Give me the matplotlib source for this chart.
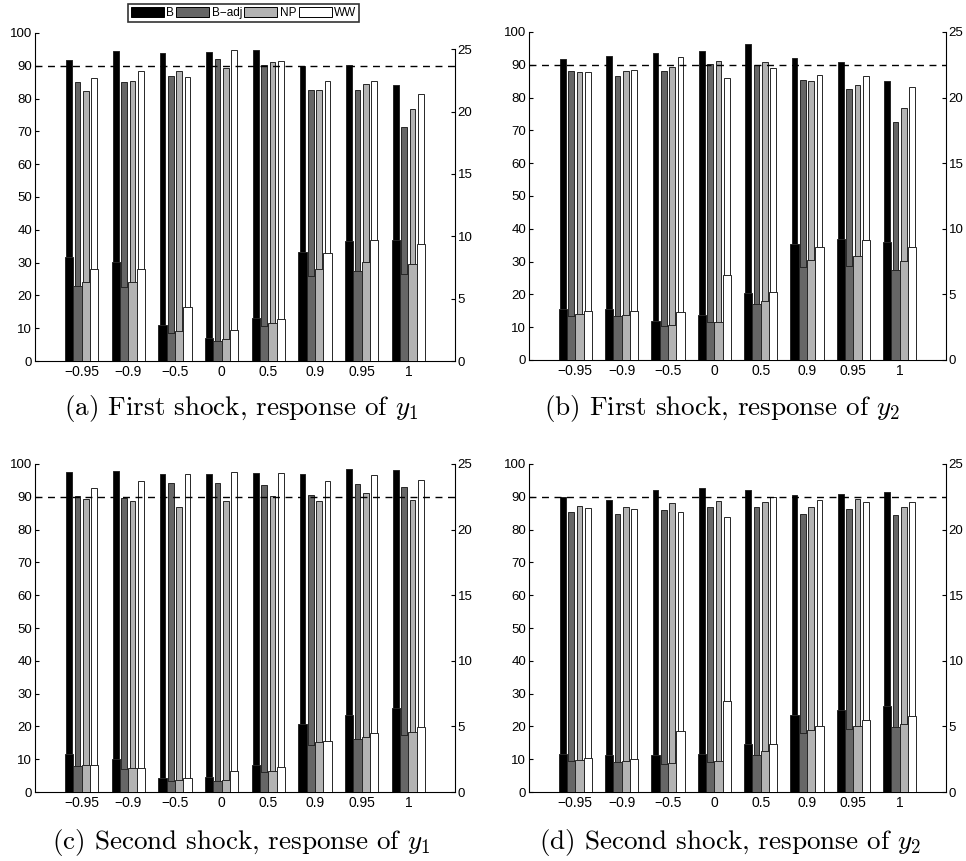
import numpy as np
import matplotlib.pyplot as plt
from matplotlib.patches import Patch

plt.rcParams['font.family'] = ['Liberation Sans', 'DejaVu Sans']
plt.rcParams['mathtext.fontset'] = 'cm'

rho = ['\u22120.95', '\u22120.9', '\u22120.5', '0', '0.5', '0.9', '0.95', '1']
methods = ['B', 'B\u2212adj', 'NP', 'WW']
colors = ['black', '0.4', '0.7', 'white']

# coverage (%), left axis, thin bars  -- rows: B, B-adj, NP, WW
cov_a = [[91.9, 94.4, 93.9, 94.1, 94.7, 90.0, 90.2, 84.2],
         [85.1, 85.0, 86.8, 92.0, 90.3, 82.6, 82.5, 71.3],
         [82.2, 85.3, 88.4, 89.4, 91.0, 82.5, 84.5, 76.8],
         [86.4, 88.5, 86.6, 94.7, 91.6, 85.3, 85.3, 81.4]]
# interval length, right axis, wide bars
len_a = [[8.35, 7.92, 2.92, 1.87, 3.45, 8.75, 9.64, 9.69],
         [6.02, 5.97, 2.28, 1.63, 2.84, 6.85, 7.23, 7.01],
         [6.37, 6.32, 2.41, 1.74, 3.08, 7.36, 7.90, 7.76],
         [7.41, 7.41, 4.36, 2.46, 3.40, 8.70, 9.74, 9.42]]

cov_b = [[91.7, 92.8, 93.7, 94.2, 96.2, 92.1, 90.9, 85.1],
         [88.1, 86.6, 88.2, 90.3, 89.8, 85.2, 82.7, 72.5],
         [87.9, 88.2, 89.3, 91.0, 90.8, 84.9, 83.8, 76.9],
         [87.7, 88.3, 92.4, 86.1, 89.1, 86.8, 86.5, 83.1]]
len_b = [[3.91, 3.86, 3.00, 3.40, 5.13, 8.83, 9.21, 8.96],
         [3.38, 3.38, 2.59, 2.87, 4.26, 7.08, 7.18, 6.83],
         [3.50, 3.45, 2.66, 2.92, 4.52, 7.64, 7.89, 7.54],
         [3.73, 3.73, 3.65, 6.45, 5.18, 8.63, 9.11, 8.58]]

cov_c = [[97.6, 97.8, 96.9, 96.9, 97.3, 97.1, 98.5, 98.3],
         [90.1, 89.7, 94.2, 94.1, 93.7, 90.7, 93.9, 92.9],
         [89.2, 88.6, 87.0, 88.6, 90.2, 88.8, 91.2, 88.9],
         [92.8, 94.9, 97.0, 97.5, 97.3, 94.9, 96.6, 95.1]]
len_c = [[2.90, 2.52, 1.07, 1.14, 2.03, 5.18, 5.87, 6.38],
         [1.96, 1.73, 0.86, 0.86, 1.50, 3.58, 4.01, 4.34],
         [2.03, 1.80, 0.94, 0.91, 1.58, 3.79, 4.19, 4.55],
         [2.03, 1.80, 1.04, 1.60, 1.88, 3.91, 4.47, 4.93]]

cov_d = [[89.9, 88.9, 92.0, 92.7, 92.1, 90.4, 90.8, 91.5],
         [85.4, 84.8, 86.0, 87.0, 87.0, 84.7, 86.4, 84.6],
         [87.3, 87.0, 88.1, 88.8, 88.4, 87.0, 89.4, 87.0],
         [86.5, 86.2, 85.5, 83.7, 89.9, 89.1, 88.4, 88.5]]
len_d = [[2.92, 2.85, 2.79, 2.92, 3.63, 5.84, 6.22, 6.55],
         [2.36, 2.26, 2.13, 2.26, 2.85, 4.50, 4.78, 4.95],
         [2.46, 2.39, 2.18, 2.36, 3.10, 4.75, 5.03, 5.21],
         [2.59, 2.54, 4.67, 6.91, 3.63, 5.00, 5.46, 5.79]]

captions = ['(a) First shock, response of $y_1$',
            '(b) First shock, response of $y_2$',
            '(c) Second shock, response of $y_1$',
            '(d) Second shock, response of $y_2$']

fig = plt.figure(figsize=(9.66, 8.61), dpi=100)

# axes rectangles (fig fraction)
rects = [[0.0362, 0.5807, 0.4348, 0.381],
         [0.5476, 0.5819, 0.4317, 0.381],
         [0.0362, 0.0801, 0.4348, 0.381],
         [0.5476, 0.0801, 0.4317, 0.381]]
cap_pos = [(0.250, 0.526), (0.748, 0.526), (0.250, 0.021), (0.756, 0.021)]
right_top = [26.3, 25, 25, 25]

x = np.arange(1, 9)
w_wide = 0.18
w_thin = 0.12

for k, (cov, ln) in enumerate([(cov_a, len_a), (cov_b, len_b), (cov_c, len_c), (cov_d, len_d)]):
    ax = fig.add_axes(rects[k])
    for i in range(4):
        ax.bar(x + (i - 1.5) * w_wide, cov[i], w_thin, color=colors[i],
               edgecolor='0.15', linewidth=0.7)
    ax.axhline(90, color='black', ls=(0, (5, 4)), lw=1.0, zorder=5)
    ax.set_xlim(0, 9)
    ax.set_ylim(0, 100)
    ax.set_yticks(np.arange(0, 101, 10))
    ax.set_xticks(x)
    ax.set_xticklabels(rho, fontsize=10)
    ax.tick_params(axis='y', direction='in', length=3, labelsize=9.5, pad=2)
    ax.tick_params(axis='x', direction='in', length=3, pad=3)
    ax.spines['top'].set_visible(False)
    ax.spines['right'].set_visible(False)

    ax2 = ax.twinx()
    for i in range(4):
        ax2.bar(x + (i - 1.5) * w_wide, ln[i], w_wide, color=colors[i],
                edgecolor='0.15', linewidth=0.7)
    ax2.set_ylim(0, right_top[k])
    ax2.set_yticks(np.arange(0, 26, 5))
    ax2.spines['right'].set_bounds(0, 25)
    ax2.spines['top'].set_visible(False)
    ax2.spines['left'].set_visible(False)
    ax2.spines['bottom'].set_visible(False)
    ax2.tick_params(axis='y', direction='in', length=3, labelsize=9.5, pad=2)

    fig.text(cap_pos[k][0], cap_pos[k][1], captions[k], family='cmr10',
             fontsize=19.5, ha='center', va='center')

handles = [Patch(facecolor=colors[i], edgecolor='black', linewidth=0.7) for i in range(4)]
leg = fig.legend(handles, methods, loc='upper center', bbox_to_anchor=(0.252, 0.995),
                 ncol=4, fontsize=8.5, frameon=True, fancybox=False,
                 handlelength=2.8, handleheight=0.9, columnspacing=0.2,
                 handletextpad=0.2, borderpad=0.25, borderaxespad=0)
leg.get_frame().set_edgecolor('black')
leg.get_frame().set_linewidth(1.2)

plt.savefig('out.png', dpi=100)
